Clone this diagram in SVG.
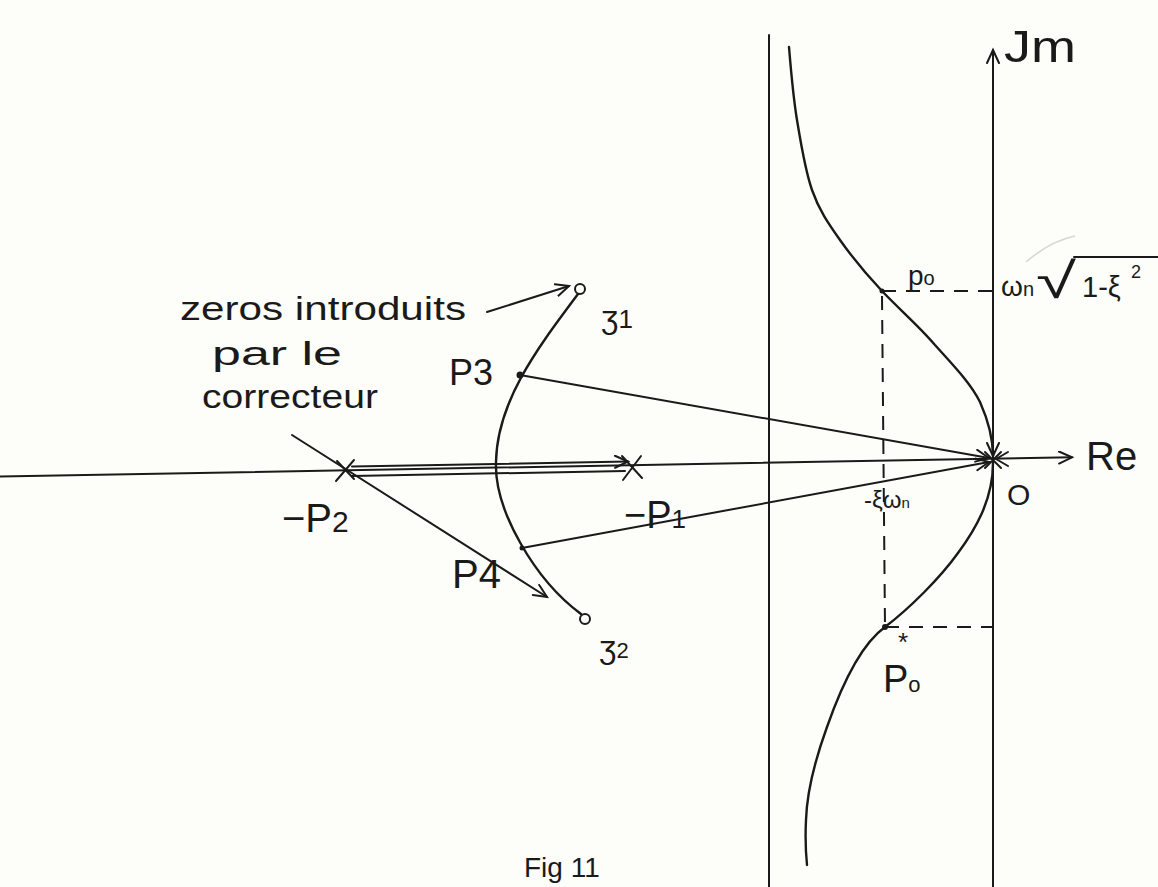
<svg xmlns="http://www.w3.org/2000/svg" width="1158" height="887" viewBox="0 0 1158 887">
<defs>
<style>
.ln{stroke:#1a1a1a;stroke-width:2;fill:none;stroke-linecap:round;stroke-linejoin:round}
.thk{stroke:#1a1a1a;stroke-width:2.4;fill:none;stroke-linecap:round}
.dash{stroke:#1a1a1a;stroke-width:2;fill:none;stroke-dasharray:14 10}
.t{font-family:"Liberation Sans","DejaVu Sans",sans-serif;fill:#1a1a1a}
.faint{stroke:#d8d8d0;stroke-width:1.5;fill:none}
</style>
<marker id="ah" markerUnits="userSpaceOnUse" markerWidth="20" markerHeight="20" refX="14" refY="7" orient="auto">
<path d="M1,1 L14,7 L1,13" fill="none" stroke="#1a1a1a" stroke-width="2" stroke-linecap="round"/>
</marker>
</defs>
<rect width="1158" height="887" fill="#fdfdf9"/>

<g id="axes">
<line class="ln" x1="0" y1="476.5" x2="1072" y2="457.3" marker-end="url(#ah)"/>
<line class="ln" x1="993" y1="887" x2="993" y2="50" marker-end="url(#ah)"/>
<line class="ln" x1="769" y1="35" x2="769" y2="887"/>
</g>

<g id="connectors">
<path class="thk" d="M578,294 C540,345 497,400 496,462 C494,510 535,580 581,614"/>
<path class="thk" d="M789,47 C790,59 793,96 797,120 C801,144 805,170 812,190 C819,210 828,223 840,240 C852,257 866,274 882,291 C898,308 920,327 935,345 C951,363 970,382 980,402 C988,420 993,440 993,456" marker-end="url(#ah)"/>
<path class="thk" d="M993,463 C993,500 975,530 958,553 C940,578 910,608 885,627 C860,645 840,690 827,727 C815,760 807,790 806,820 C805,840 806,855 807,865"/>
<line class="ln" x1="520" y1="375" x2="989" y2="458" marker-end="url(#ah)"/>
<line class="ln" x1="522" y1="548" x2="989" y2="462" marker-end="url(#ah)"/>
<line class="ln" x1="352" y1="466.5" x2="628" y2="461.5" marker-end="url(#ah)"/>
<line class="ln" x1="352" y1="476" x2="625" y2="471"/>
<line class="ln" x1="487" y1="312" x2="569" y2="286" marker-end="url(#ah)"/>
<line class="ln" x1="292" y1="435" x2="547" y2="597" marker-end="url(#ah)"/>
<path class="ln" d="M1008,452 L996,459 L1008,466"/>
<line class="dash" x1="882" y1="291" x2="993" y2="291"/>
<line class="dash" x1="882" y1="296" x2="885" y2="627"/>
<line class="dash" x1="885" y1="627" x2="993" y2="627"/>
<line class="ln" x1="1074" y1="257" x2="1158" y2="257"/>
<path class="faint" d="M1026,262 C1040,250 1055,240 1075,236"/>
</g>

<g id="poles">
<path class="ln" d="M337,461 L354,479 M354,460 L336,481"/>
<path class="ln" d="M622,456 L642,478 M641,456 L623,480"/>
<path class="ln" d="M985,452 L1001,468 M1001,452 L985,468"/>
</g>

<g id="zeros">
<circle cx="580" cy="289" r="5" fill="#fdfdf9" stroke="#1a1a1a" stroke-width="2"/>
<circle cx="585" cy="619" r="5" fill="#fdfdf9" stroke="#1a1a1a" stroke-width="2"/>
</g>

<g id="points">
<circle cx="520" cy="375" r="3.5" fill="#1a1a1a"/>
<circle cx="522" cy="548" r="2.5" fill="#1a1a1a"/>
<circle cx="882" cy="291" r="2.5" fill="#1a1a1a"/>
<circle cx="885" cy="627" r="3" fill="#1a1a1a"/>
</g>

<g id="labels">
<text class="t" x="1004" y="62" font-size="44" textLength="72" lengthAdjust="spacingAndGlyphs">Jm</text>
<text class="t" x="1086" y="470" font-size="40">Re</text>
<text class="t" x="1007" y="505" font-size="30">O</text>
<text class="t" x="864" y="508" font-size="24">-ξω<tspan font-size="15">n</tspan></text>
<text class="t" x="908" y="285" font-size="28">p<tspan font-size="20">o</tspan></text>
<text class="t" x="1001" y="296" font-size="28">ω<tspan font-size="20">n</tspan></text>
<text class="t" x="1036" y="298" font-size="50" textLength="40" lengthAdjust="spacingAndGlyphs">√</text>
<text class="t" x="1082" y="297" font-size="29">1-ξ</text>
<text class="t" x="1131" y="278" font-size="18">2</text>
<text class="t" x="883" y="692" font-size="38">P<tspan font-size="22">o</tspan></text>
<text class="t" x="898" y="651" font-size="26">*</text>
<text class="t" x="282" y="532" font-size="40">−P<tspan font-size="30">2</tspan></text>
<text class="t" x="624" y="528" font-size="38">−P<tspan font-size="26">1</tspan></text>
<text class="t" x="449" y="385" font-size="36">P3</text>
<text class="t" x="452" y="588" font-size="40">P4</text>
<text class="t" x="601" y="328" font-size="32">ʒ<tspan font-size="26">1</tspan></text>
<text class="t" x="599" y="658" font-size="32">ʒ<tspan font-size="22">2</tspan></text>
<text class="t" x="180" y="320" font-size="34" textLength="286" lengthAdjust="spacingAndGlyphs">zeros introduits</text>
<text class="t" x="212" y="365" font-size="34" textLength="130" lengthAdjust="spacingAndGlyphs">par le</text>
<text class="t" x="202" y="408" font-size="34" textLength="176" lengthAdjust="spacingAndGlyphs">correcteur</text>
<text class="t" x="524" y="877" font-size="28">Fig 11</text>
</g>
</svg>
